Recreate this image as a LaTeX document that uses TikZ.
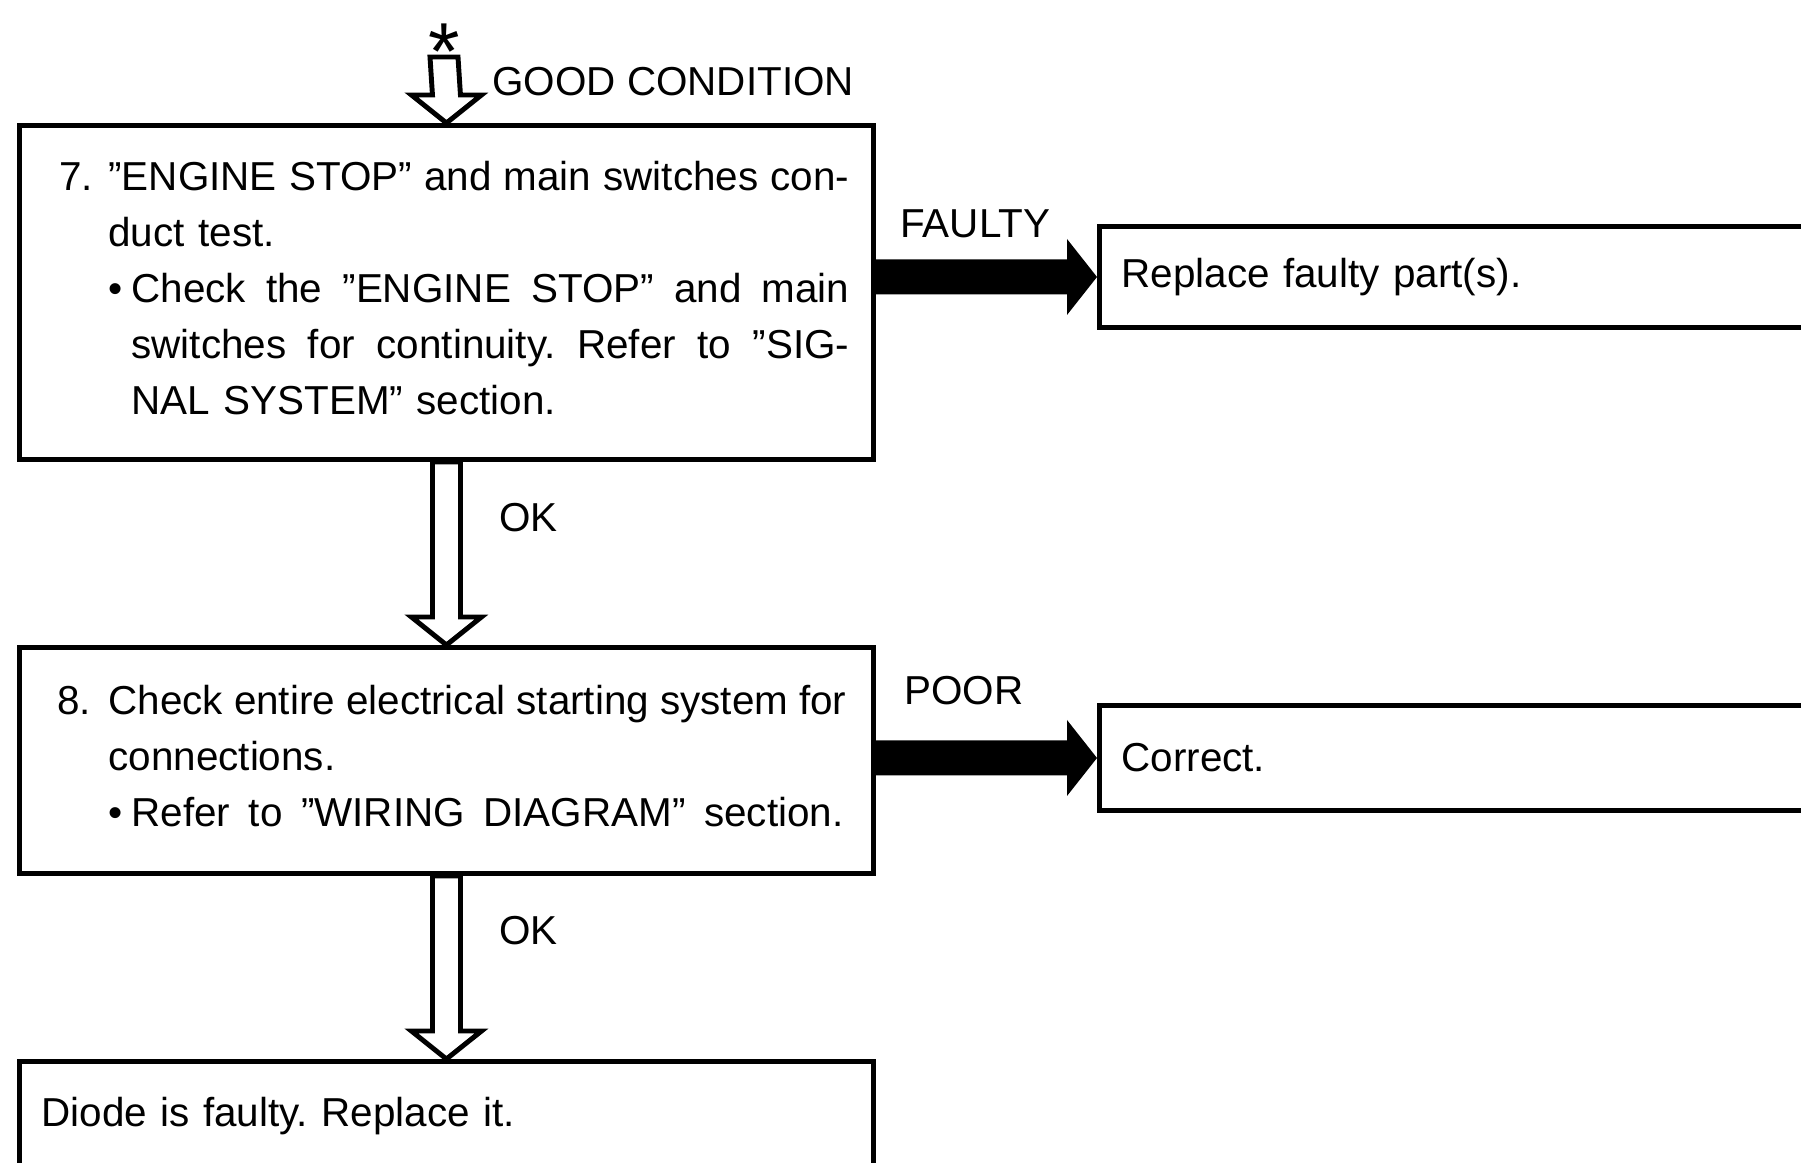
\documentclass[tikz,border=0pt]{standalone}
\usepackage{fontspec}
\setmainfont{Liberation Sans}
\usepackage{tikz}
\usetikzlibrary{calc,positioning}

\frenchspacing
\newcommand{\boxfont}{\fontsize{11.5pt}{15.9pt}\selectfont}
\newcommand{\fullline}[2]{{\spaceskip=0pt\xspaceskip=0pt\makebox[#1][s]{#2}}}
% hollow arrow, pointing down
\newcommand{\okarrow}[2]{%
  \draw[fill=white] ($(#1)+(-0.14,0)$) -- ($(#2)+(-0.14,0.28)$) -- ($(#2)+(-0.35,0.28)$) -- (#2)
    -- ($(#2)+(0.35,0.28)$) -- ($(#2)+(0.14,0.28)$) -- ($(#1)+(0.14,0)$) -- cycle;}
% solid arrow, pointing right
\newcommand{\fatarrow}[2]{%
  \fill ($(#1)+(0,0.175)$) -- ($(#2)+(-0.30,0.175)$) -- ($(#2)+(-0.30,0.38)$) -- (#2)
    -- ($(#2)+(-0.30,-0.38)$) -- ($(#2)+(-0.30,-0.175)$) -- ($(#1)+(0,-0.175)$) -- cycle;}

\begin{document}
\begin{tikzpicture}[line width=1.4pt,
    stepbox/.style={draw, anchor=north west, inner sep=0pt, text width=8.54cm, align=left, font=\boxfont},
    infobox/.style={draw, anchor=north west, inner xsep=0.22cm, inner ysep=0pt, align=left, font=\boxfont},
    lbl/.style={inner sep=0pt, font=\boxfont}]
    \useasboundingbox (0,0) rectangle (18.01,-11.62);
    % check steps
    \node[stepbox, minimum height=3.34cm] (s7) at (0.17,-1.23) {\hspace*{0.40cm}\parbox{7.90cm}{%
      \makebox[0.49cm][l]{7.}\parbox[t]{7.41cm}{\fullline{7.41cm}{''ENGINE STOP'' and main switches con-}\\
      duct test.\\
      \makebox[0.23cm][l]{\textbullet}\parbox[t]{7.18cm}{\fullline{7.18cm}{Check the ''ENGINE STOP'' and main}\\
      \fullline{7.18cm}{switches for continuity. Refer to ''SIG-}\\
      NAL SYSTEM'' section.}}\par\vspace{0.09cm}}};
    \node[stepbox, minimum height=2.26cm] (s8) at (0.17,-6.45) {\hspace*{0.38cm}\parbox{7.89cm}{%
      \makebox[0.51cm][l]{8.}\parbox[t]{7.38cm}{\fullline{7.38cm}{Check entire electrical starting system for}\\
      connections.\\
      \makebox[0.23cm][l]{\textbullet}\parbox[t]{7.12cm}{\fullline{7.12cm}{Refer to ''WIRING DIAGRAM'' section.}}}\par\vspace{0.09cm}}};
    \node[infobox, text width=8.10cm, minimum height=1.1cm] (s9) at (0.17,-10.59) {Diode is faulty. Replace it.};
    % remedies
    \node[infobox, text width=7.5cm, minimum height=1.01cm] (r1) at (10.97,-2.24) {Replace faulty part(s).};
    \node[infobox, text width=7.5cm, minimum height=1.05cm] (r2) at (10.97,-7.03) {Correct.};
    % entry
    \node[lbl, font=\fontsize{23pt}{23pt}\selectfont, anchor=base] (star) at (4.44,-0.79) {*};
    \coordinate (entry) at (4.44,-0.57);
    \node[lbl, anchor=west] (good) at (4.90,-0.82) {GOOD CONDITION};
    % OK arrows
    \okarrow{entry}{s7.north}
    \okarrow{s7.south}{s8.north}
    \okarrow{s8.south}{s9.north}
    \node[lbl, anchor=west] (ok1) at (4.97,-5.18) {OK};
    \node[lbl, anchor=west] (ok2) at (4.97,-9.31) {OK};
    % faulty / poor arrows
    \fatarrow{s7.east |- r1.west}{r1.west}
    \fatarrow{s8.east |- r2.west}{r2.west}
    \node[lbl, anchor=west] (faulty) at (8.98,-2.235) {FAULTY};
    \node[lbl, anchor=west] (poor) at (9.02,-6.91) {POOR};
\end{tikzpicture}
\end{document}
